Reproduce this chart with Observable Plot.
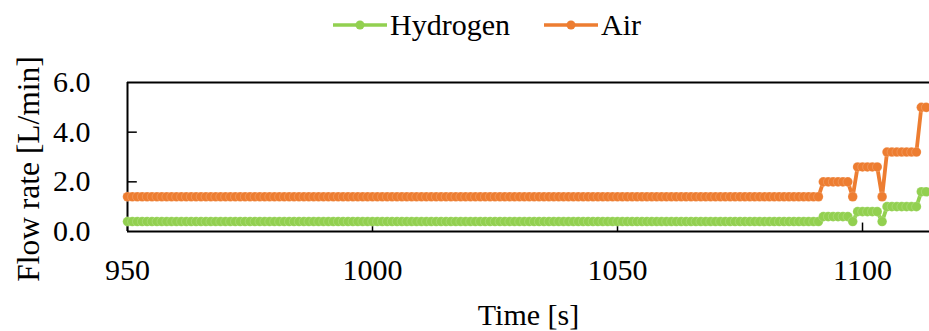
<!DOCTYPE html>
<html>
<head>
<meta charset="utf-8">
<script src="https://cdn.jsdelivr.net/npm/d3@7"></script>
<script src="https://cdn.jsdelivr.net/npm/@observablehq/plot@0.6"></script>
<style>
  body { margin: 0; background: #fff; font-family: "Liberation Serif", "Times New Roman", serif; }
  #wrap { width: 929px; }
  #legend { position: relative; width: 929px; height: 50px; font-size: 30px; color: #000; font-family: "Liberation Serif", "Times New Roman", serif; }
  .item { position: absolute; top: 0; height: 50px; display: flex; align-items: center; }
  .item svg { display: block; margin-right: 3px; }
</style>
</head>
<body>
<div id="wrap">
  <div id="legend"></div>
  <div id="chart"></div>
</div>
<script>
// ---- data ----
const time = d3.range(950, 1114); // 1 s sampling grid

const hydrogen = [
  0.4,0.4,0.4,0.4,0.4,0.4,0.4,0.4,0.4,0.4,0.4,0.4,0.4,0.4,0.4,0.4,0.4,0.4,0.4,0.4,
  0.4,0.4,0.4,0.4,0.4,0.4,0.4,0.4,0.4,0.4,0.4,0.4,0.4,0.4,0.4,0.4,0.4,0.4,0.4,0.4,
  0.4,0.4,0.4,0.4,0.4,0.4,0.4,0.4,0.4,0.4,0.4,0.4,0.4,0.4,0.4,0.4,0.4,0.4,0.4,0.4,
  0.4,0.4,0.4,0.4,0.4,0.4,0.4,0.4,0.4,0.4,0.4,0.4,0.4,0.4,0.4,0.4,0.4,0.4,0.4,0.4,
  0.4,0.4,0.4,0.4,0.4,0.4,0.4,0.4,0.4,0.4,0.4,0.4,0.4,0.4,0.4,0.4,0.4,0.4,0.4,0.4,
  0.4,0.4,0.4,0.4,0.4,0.4,0.4,0.4,0.4,0.4,0.4,0.4,0.4,0.4,0.4,0.4,0.4,0.4,0.4,0.4,
  0.4,0.4,0.4,0.4,0.4,0.4,0.4,0.4,0.4,0.4,0.4,0.4,0.4,0.4,0.4,0.4,0.4,0.4,0.4,0.4,
  0.4,0.4,
  0.6,0.6,0.6,0.6,0.6,0.6,
  0.4,
  0.8,0.8,0.8,0.8,0.8,
  0.4,
  1.0,1.0,1.0,1.0,1.0,1.0,1.0,
  1.6,1.6
];

const air = [
  1.4,1.4,1.4,1.4,1.4,1.4,1.4,1.4,1.4,1.4,1.4,1.4,1.4,1.4,1.4,1.4,1.4,1.4,1.4,1.4,
  1.4,1.4,1.4,1.4,1.4,1.4,1.4,1.4,1.4,1.4,1.4,1.4,1.4,1.4,1.4,1.4,1.4,1.4,1.4,1.4,
  1.4,1.4,1.4,1.4,1.4,1.4,1.4,1.4,1.4,1.4,1.4,1.4,1.4,1.4,1.4,1.4,1.4,1.4,1.4,1.4,
  1.4,1.4,1.4,1.4,1.4,1.4,1.4,1.4,1.4,1.4,1.4,1.4,1.4,1.4,1.4,1.4,1.4,1.4,1.4,1.4,
  1.4,1.4,1.4,1.4,1.4,1.4,1.4,1.4,1.4,1.4,1.4,1.4,1.4,1.4,1.4,1.4,1.4,1.4,1.4,1.4,
  1.4,1.4,1.4,1.4,1.4,1.4,1.4,1.4,1.4,1.4,1.4,1.4,1.4,1.4,1.4,1.4,1.4,1.4,1.4,1.4,
  1.4,1.4,1.4,1.4,1.4,1.4,1.4,1.4,1.4,1.4,1.4,1.4,1.4,1.4,1.4,1.4,1.4,1.4,1.4,1.4,
  1.4,1.4,
  2.0,2.0,2.0,2.0,2.0,2.0,
  1.4,
  2.6,2.6,2.6,2.6,2.6,
  1.4,
  3.2,3.2,3.2,3.2,3.2,3.2,3.2,
  5.0,5.0
];

const seriesNames = ["Hydrogen", "Air"];
const seriesColors = ["#92D050", "#ED7D31"];
const xTicks = [950, 1000, 1050, 1100];
const yTicks = [0, 2, 4, 6];
const xTitle = "Time [s]";
const yTitle = "Flow rate [L/min]";

// ---- legend (HTML, above the SVG) ----
const legendLeft = [333, 544];
const legend = document.getElementById("legend");
seriesNames.forEach((name, i) => {
  const item = document.createElement("div");
  item.className = "item";
  item.style.left = legendLeft[i] + "px";
  item.innerHTML =
    `<svg width="54" height="12"><line x1="0" x2="54" y1="6" y2="6" stroke="${seriesColors[i]}" stroke-width="3.5"/>` +
    `<circle cx="27" cy="6" r="4.5" fill="${seriesColors[i]}"/></svg><span>${name}</span>`;
  legend.appendChild(item);
});

// ---- chart ----
const data = time.map((t, i) => ({t, h: hydrogen[i], a: air[i]}));
const serif = "'Liberation Serif', 'Times New Roman', serif";

const chart = Plot.plot({
  width: 929,
  height: 281,
  marginTop: 32,
  marginBottom: 100,
  marginLeft: 127,
  marginRight: 0,
  style: {fontFamily: serif, fontSize: "30px", color: "#000", background: "#fff", overflow: "visible"},
  x: {domain: [950, 1113.67], axis: null},
  y: {domain: [0, 6], axis: null},
  marks: [
    // frame and inward ticks
    Plot.ruleY([0, 6], {stroke: "#000", strokeWidth: 2}),
    Plot.ruleX([950], {stroke: "#000", strokeWidth: 2}),
    Plot.ruleX(xTicks, {y1: 0, y2: 0.34, stroke: "#000", strokeWidth: 1.5}),
    Plot.ruleY(yTicks.slice(1, -1), {x1: 950, x2: 952, stroke: "#000", strokeWidth: 1.5}),
    // tick labels as text placed by the scales
    Plot.text(xTicks, {x: d => d, text: d => String(d), frameAnchor: "bottom", lineAnchor: "middle", dy: 39, fontSize: 30, fill: "#000", fontFamily: serif}),
    Plot.text(yTicks, {y: d => d, text: d => d.toFixed(1), frameAnchor: "left", textAnchor: "end", lineAnchor: "middle", dx: -37, fontSize: 30, fill: "#000", fontFamily: serif}),
    // series
    Plot.line(data, {x: "t", y: "h", stroke: seriesColors[0], strokeWidth: 3.8}),
    Plot.dot(data, {x: "t", y: "h", r: 4.8, fill: seriesColors[0], stroke: "#fff", strokeWidth: 0.3, strokeOpacity: 0.6}),
    Plot.line(data, {x: "t", y: "a", stroke: seriesColors[1], strokeWidth: 3.8}),
    Plot.dot(data, {x: "t", y: "a", r: 4.8, fill: seriesColors[1], stroke: "#fff", strokeWidth: 0.3, strokeOpacity: 0.6}),
    // axis titles
    Plot.text([xTitle], {frameAnchor: "bottom", lineAnchor: "middle", dy: 84, fontSize: 30, fill: "#000", fontFamily: serif}),
    Plot.text([yTitle], {frameAnchor: "left", textAnchor: "middle", rotate: -90, dx: -99, dy: 12, fontSize: 31.5, fill: "#000", fontFamily: serif})
  ]
});
document.getElementById("chart").appendChild(chart);
</script>
</body>
</html>
